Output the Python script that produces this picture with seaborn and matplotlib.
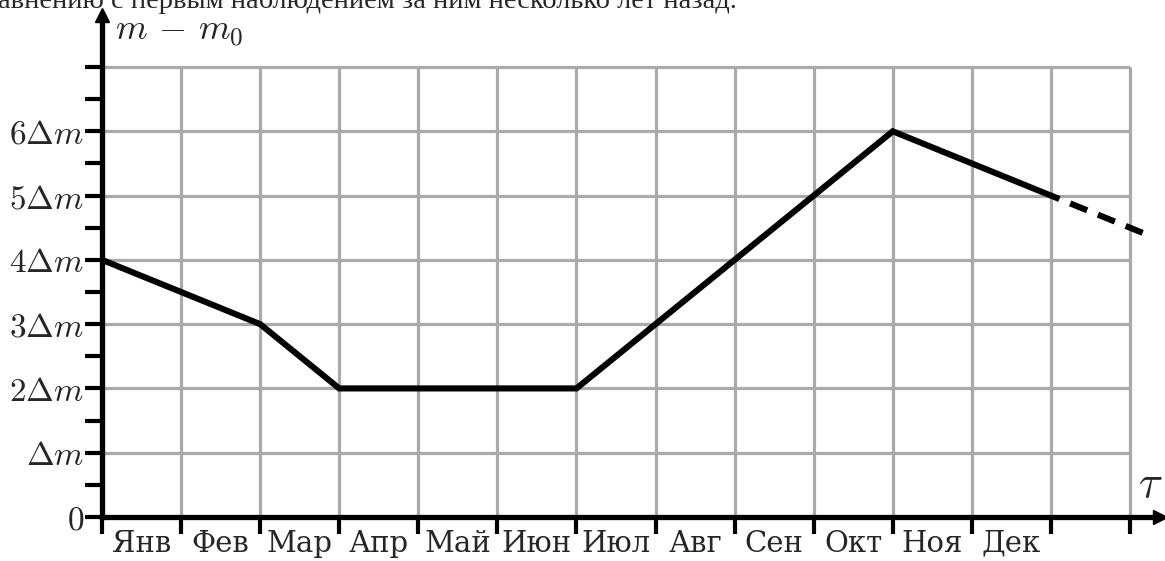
import matplotlib
matplotlib.use("Agg")
import matplotlib.pyplot as plt
import seaborn as sns
import pandas as pd
import numpy as np

sns.set_theme(style="white")
plt.rcParams["mathtext.fontset"] = "cm"
plt.rcParams["font.family"] = ["DejaVu Serif", "Liberation Serif"]

# Data
months = ["Янв", "Фев", "Мар", "Апр", "Май", "Июн", "Июл", "Авг", "Сен", "Окт", "Ноя", "Дек"]
solid_t = [0, 2, 3, 6, 10, 12]
solid_v = [4, 3, 2, 2, 6, 5]
dashed_t = [12, 13.2]
dashed_v = [5, 4.4]
ytick_vals = [0, 1, 2, 3, 4, 5, 6]
ytick_labels = ["$0$", r"$\Delta m$", r"$2\Delta m$", r"$3\Delta m$", r"$4\Delta m$", r"$5\Delta m$", r"$6\Delta m$"]
caption = "сравнению с первым наблюдением за ним несколько лет назад."

W, H = 1165, 561
fig = plt.figure(figsize=(W / 100, H / 100), dpi=100)
x0, x13 = 102, 1130
y0, y7 = 517, 67
px_x = (x13 - x0) / 13
px_y = (y0 - y7) / 7
right_px, top_px = 1160, 15
ax = fig.add_axes([x0 / W, (H - y0) / H, (right_px - x0) / W, (y0 - top_px) / H])
ax.set_xlim(0, (right_px - x0) / px_x)
ax.set_ylim(0, (y0 - top_px) / px_y)

# grid
for gx in range(1, 14):
    ax.plot([gx, gx], [0, 7], color="#aaaaaa", lw=2.3, zorder=1, solid_capstyle="butt")
for gy in range(1, 8):
    ax.plot([0, 13], [gy, gy], color="#aaaaaa", lw=2.3, zorder=1, solid_capstyle="butt")

df_s = pd.DataFrame({"t": solid_t, "v": solid_v})
df_d = pd.DataFrame({"t": dashed_t, "v": dashed_v})
sns.lineplot(data=df_s, x="t", y="v", ax=ax, color="black", lw=4.4, zorder=3,
             sort=False, solid_joinstyle="miter")
sns.lineplot(data=df_d, x="t", y="v", ax=ax, color="black", lw=4.4, zorder=3,
             sort=False, dashes=False, linestyle=(1.5, (3.0, 1.9)))

for s in ["top", "right"]:
    ax.spines[s].set_visible(False)
for s in ["left", "bottom"]:
    ax.spines[s].set_linewidth(3.8)
    ax.spines[s].set_color("black")
    ax.spines[s].set_zorder(4)

# arrows
ax.plot(1, 0, marker=">", color="black", markersize=10, transform=ax.transAxes, clip_on=False, zorder=5)
ax.plot(0, 1, marker="^", color="black", markersize=10, transform=ax.transAxes, clip_on=False, zorder=5)

ax.set_xticks(range(0, 14))
ax.set_xticklabels([])
ax.set_xticks([i + 0.5 for i in range(12)], minor=True)
ax.set_xticklabels(months, minor=True, fontsize=21)
ax.tick_params(axis="x", which="major", direction="out", length=12, width=3, color="black", bottom=True)
ax.tick_params(axis="x", which="minor", length=0, pad=9)

ax.set_yticks(ytick_vals + [7])
ax.set_yticklabels(ytick_labels + [""], fontsize=24)
ax.set_yticks([i + 0.5 for i in range(7)], minor=True)
ax.tick_params(axis="y", which="both", direction="out", length=12, width=3, color="black", left=True, pad=1)

ax.set_xlabel("")
ax.set_ylabel("")
ax.grid(False)

ax.text(0.012, 1.0, r"$m\,-\,m_{\mathit{0}}$", transform=ax.transAxes, fontsize=26, va="top", ha="left")
ax.text(1.003, 0.022, r"$\tau$", transform=ax.transAxes, fontsize=32, ha="right", va="bottom")

fig.text(737 / W, 1 - 8 / H, caption, ha="right", va="baseline", fontsize=20.5,
         family="Liberation Serif")

fig.savefig("out.png", dpi=100)
